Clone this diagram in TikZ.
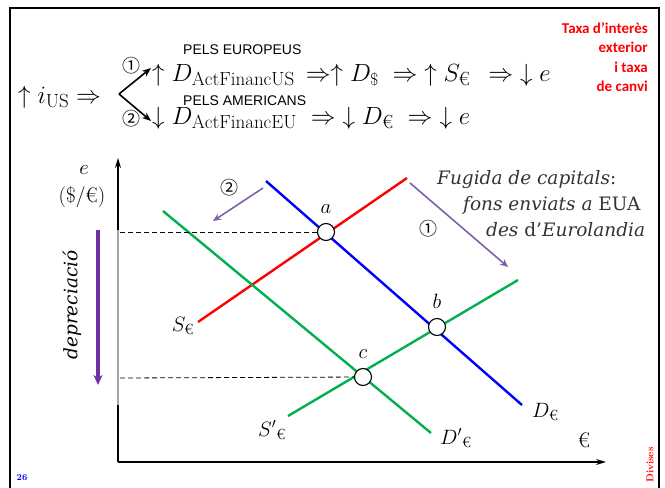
\documentclass[tikz,border=0pt]{standalone}
\usepackage{amsmath}
\usepackage{fontspec}
\newfontfamily\calibri{Carlito}
\newfontfamily\arial{Liberation Sans}
\newfontfamily\cjk{Noto Sans CJK SC}
\newfontfamily\cambria{DejaVu Serif}
\DeclareMathSizes{25}{25}{19}{15}
\usetikzlibrary{arrows.meta, positioning, calc}
\definecolor{curvered}{RGB}{255,0,0}
\definecolor{curveblue}{RGB}{0,0,255}
\definecolor{curvegreen}{RGB}{0,176,80}
\definecolor{flowpurple}{RGB}{128,96,168}
\definecolor{deppurple}{RGB}{112,48,160}

\begin{document}
\begin{tikzpicture}[x=1pt, y=-1pt,
  every node/.style={inner sep=0pt},
  curve/.style={line width=2.4pt},
  guide/.style={dashed, line width=0.8pt, dash pattern=on 5pt off 3pt},
  eq/.style={circle, draw, fill=white, line width=1.1pt, minimum size=17pt},
  flow/.style={-{Stealth[length=8pt, width=7pt]}, flowpurple, line width=1.6pt},
  fwd/.style={-{Stealth[length=9pt, width=7pt]}, line width=1.6pt},
  axis/.style={-{Stealth[length=10pt, width=6pt]}, line width=1.2pt},
  lbl/.style={font=\fontsize{21}{24}\selectfont},
  word/.style={font=\cambria\fontsize{18.5}{22}\selectfont, text=black!80},
  big/.style={font=\fontsize{25}{29}\selectfont},
  pels/.style={font=\arial\fontsize{14}{16}\selectfont},
  circnum/.style={font=\cjk\fontsize{18}{20}\selectfont}
]
  \useasboundingbox (0,0) rectangle (665,488);
  \draw[line width=2pt] (10,490) -- (10,8) -- (659,8) -- (659,490);

  % chain of effects
  \node[big, anchor=base west] (iUS) at (18,103) {$\uparrow i_{\mathrm{US}} \Rightarrow$};
  \coordinate (fork) at (119,94);
  \coordinate (up) at (151,68);
  \coordinate (down) at (151,121);
  \draw[fwd] (fork) -- (up);
  \draw[fwd] (fork) -- (down);
  \node[circnum] (one) at (131,66) {①};
  \node[circnum] (two) at (131,119) {②};
  \node[big, anchor=base west] (l1) at (152,81)
    {$\uparrow D_{\mathrm{ActFinancUS}} \,\Rightarrow \uparrow D_{\$} \;\Rightarrow\; \uparrow S_{\text{€}} \;\,\Rightarrow\; \downarrow e$};
  \node[big, anchor=base west] (l2) at (152,124)
    {$\downarrow D_{\mathrm{ActFinancEU}} \;\Rightarrow\; \downarrow D_{\text{€}} \;\Rightarrow\; \downarrow e$};
  \node[pels, anchor=base west] (pe) at (183,54) {PELS EUROPEUS};
  \node[pels, anchor=base west] (pa) at (183,105) {PELS AMERICANS};

  \node[font=\calibri\bfseries\fontsize{15}{19.5}\selectfont, text=red, align=right, anchor=north east]
    (title) at (648,22) {Taxa d’interès\\exterior\\i taxa\\de canvi};

  % axes
  \coordinate (O) at (118,462);
  \coordinate (ytop) at (118,158);
  \coordinate (xend) at (606,462);
  \draw[axis] (O) -- (ytop);
  \draw[axis] (O) -- (xend);
  \draw[gray!70, line width=2.6pt] (118,230) -- (118,405);
  \node[lbl] (elab) at (84,170) {$e$};
  \node[lbl] (unit) at (82,197) {(\$/€)};
  \node[lbl] (eur) at (584,440) {€};

  % curves
  \coordinate (Dtop) at (266,181);  \coordinate (Dbot) at (522,405);
  \coordinate (Stop) at (407,178);  \coordinate (Sbot) at (198,322);
  \coordinate (S2top) at (518,280); \coordinate (S2bot) at (288,416);
  \coordinate (D2top) at (163,211); \coordinate (D2bot) at (431,433);
  \draw[curve, curveblue] (Dtop) -- (Dbot);
  \draw[curve, curvered] (Sbot) -- (Stop);
  \draw[curve, curvegreen] (S2bot) -- (S2top);
  \draw[curve, curvegreen] (D2top) -- (D2bot);

  \node[lbl, anchor=east] (Slab) at (194,326) {$S_{\text{€}}$};
  \node[lbl, anchor=west] (Dlab) at (532,412) {$D_{\text{€}}$};
  \node[lbl, anchor=east] (S2lab) at (286,430) {$S'{}_{\text{€}}$};
  \node[lbl, anchor=west] (D2lab) at (440,438) {$D'{}_{\text{€}}$};

  % equilibria
  \node[eq] (a) at (326,232) {};
  \node[eq] (b) at (437,327) {};
  \node[eq] (c) at (363,377) {};
  \node[lbl] (alab) [above=9pt of a] {$a$};
  \node[lbl] (blab) [above=9pt of b] {$b$};
  \node[lbl] (clab) [above=9pt of c] {$c$};
  \coordinate (ya) at (120,232);
  \coordinate (yc) at (120,378);
  \draw[guide] (ya) -- (a);
  \draw[guide] (yc) -- (c);

  % capital flight
  \coordinate (f1s) at (410,183); \coordinate (f1e) at (508,267);
  \coordinate (f2s) at (263,188); \coordinate (f2e) at (213,221);
  \draw[flow] (f1s) -- (f1e);
  \draw[flow] (f2s) -- (f2e);
  \node[circnum] (n1) at (428,229) {①};
  \node[circnum] (n2) at (229,188) {②};
  \node[word, anchor=base west] (fug1) at (437,184) {\textit{Fugida de capitals}:};
  \node[word, anchor=base west] (fug2) at (463,210) {\textit{fons enviats a} EUA};
  \node[word, anchor=base west] (fug3) at (486,236) {\textit{des} d’\textit{Eurolandia}};

  % depreciation
  \coordinate (dtop) at (98,230);
  \coordinate (dbot) at (98,385);
  \draw[-{Stealth[length=10pt, width=9pt]}, deppurple, line width=3.5pt] (dtop) -- (dbot);
  \node[word, text=black, rotate=90] (dep) at (72,305) {\textit{depreciació}};

  % footer
  \node[font=\bfseries\fontsize{9}{10}\selectfont, text=blue] (num) at (22,478) {26};
  \node[font=\bfseries\fontsize{10}{11}\selectfont, text=red, rotate=90] (div) at (650,465) {Divises};
\end{tikzpicture}
\end{document}
